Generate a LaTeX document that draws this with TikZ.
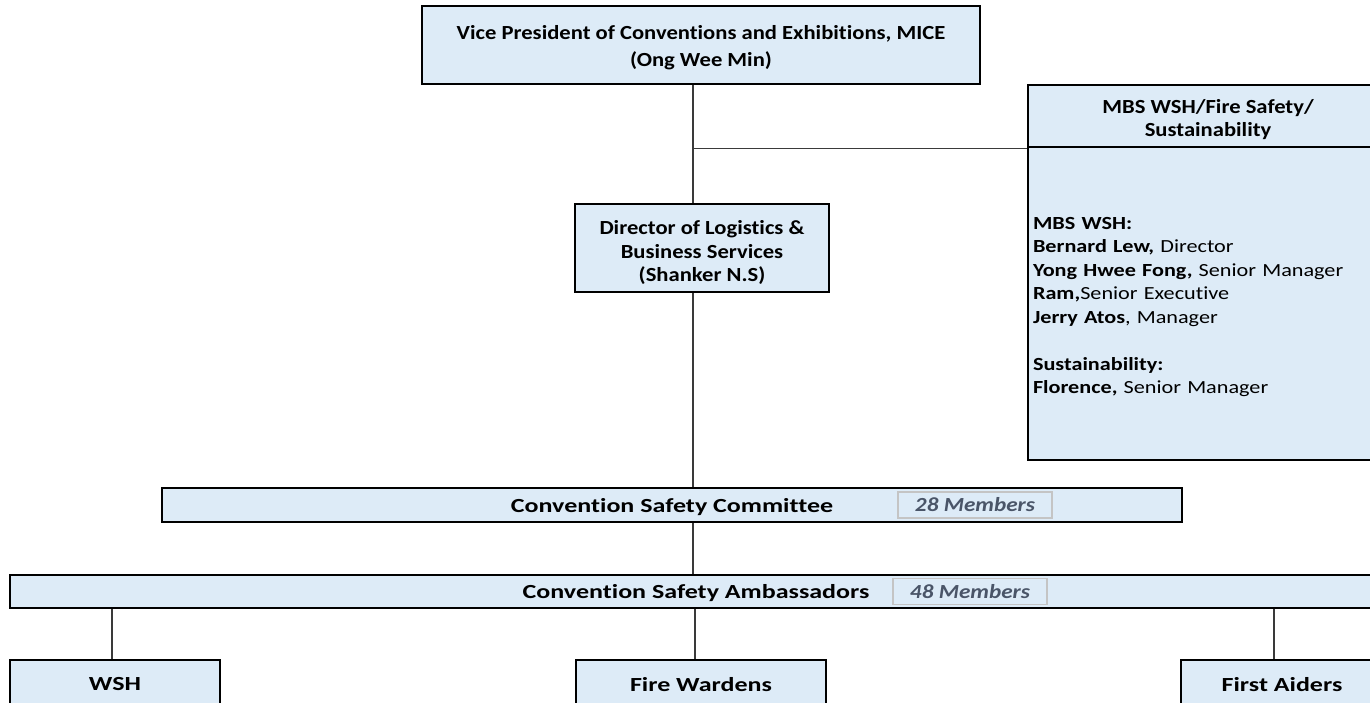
\documentclass[tikz,border=0pt]{standalone}
\usepackage{fontspec}
\setmainfont{Carlito}[Ligatures=NoCommon]
\newfontfamily\boxfont{Carlito}[Ligatures=NoCommon, FakeStretch=1.13]
\newfontfamily\barfont{Carlito}[Ligatures=NoCommon, FakeStretch=1.3]
\newfontfamily\listfont{Carlito}[Ligatures=NoCommon, FakeStretch=1.2]
\newfontfamily\tagfont{Carlito}[Ligatures=NoCommon, FakeStretch=1.16]
\usetikzlibrary{positioning}
\definecolor{boxblue}{HTML}{DDEBF7}
\definecolor{tagtext}{HTML}{4A5568}
\definecolor{tagline}{HTML}{C4C4C4}
\definecolor{linkgray}{HTML}{3A3A3A}

\begin{document}
\begin{tikzpicture}[x=1pt,y=-1pt,
  box/.style={draw=black, line width=2.4pt, fill=boxblue, align=center, inner sep=0pt,
    font=\boxfont\bfseries\fontsize{20}{27}\selectfont},
  bar/.style={box, text depth=0pt, font=\barfont\bfseries\fontsize{20}{24}\selectfont},
  tag/.style={draw=tagline, line width=1.2pt, fill=boxblue, text=tagtext, inner sep=0pt,
    minimum width=154pt, minimum height=26pt, font=\tagfont\bfseries\itshape\fontsize{20}{24}\selectfont},
  link/.style={draw=linkgray, line width=1.3pt}]
\clip (0,0) rectangle (1370,702);

% top of the chart
\node (vp) [box, minimum width=558pt, minimum height=78pt] at (701,45)
  {\rule{0pt}{20pt}Vice President of Conventions and Exhibitions, MICE\\(Ong Wee Min)};
\node (dir) [box, minimum width=254pt, minimum height=88pt, font=\boxfont\bfseries\fontsize{20}{23.5}\selectfont] at (702,248)
  {\rule{0pt}{24pt}Director of Logistics \&\\Business Services\\(Shanker N.S)};
\coordinate (trunk) at (693,0);

% safety office on the right
\node (hsehead) [box, minimum width=360pt, minimum height=62pt, font=\boxfont\bfseries\fontsize{20}{23.5}\selectfont] at (1208,116)
  {\rule{0pt}{21pt}MBS WSH/Fire Safety/\\Sustainability};
\node (hsebody) [box, minimum width=360pt, minimum height=313pt, below=-2.4pt of hsehead,
  text width=350pt, align=left, font=\listfont\fontsize{18.5}{23.5}\selectfont]
  {\rule{0pt}{19pt}\textbf{MBS WSH:}\\
   \textbf{Bernard Lew,} Director\\
   \textbf{Yong Hwee Fong,} Senior Manager\\
   \textbf{Ram,}Senior Executive\\
   \textbf{Jerry Atos}, Manager\\[23.5pt]
   \textbf{Sustainability:}\\
   \textbf{Florence,} Senior Manager};

% committee and ambassadors
\node (csc) [bar, minimum width=1020pt, minimum height=34pt] at (672,505) {Convention Safety Committee};
\node (csctag) [tag] at (975,505) {28 Members};
\node (csa) [bar, minimum width=1372pt, minimum height=33pt] at (696,591.5) {Convention Safety Ambassadors};
\node (csatag) [tag] at (970,591.5) {48 Members};

% teams
\node (wsh) [bar, minimum width=210pt, minimum height=48pt] at (115,684) {WSH};
\node (fw) [bar, minimum width=250pt, minimum height=48pt] at (701,684) {Fire Wardens};
\node (fa) [bar, minimum width=202pt, minimum height=48pt] at (1282,684) {First Aiders};

\coordinate (tap) at (trunk |- 0,148.5);
\draw [link] (trunk |- vp.south) -- (trunk |- dir.north);
\draw [link] (tap) -- (tap -| hsebody.west);
\draw [link] (trunk |- dir.south) -- (trunk |- csc.north);
\draw [link] (trunk |- csc.south) -- (trunk |- csa.north);
\draw [link] (csa.south -| 112,0) -- (wsh.north -| 112,0);
\draw [link] (csa.south -| 695,0) -- (fw.north -| 695,0);
\draw [link] (csa.south -| 1274,0) -- (fa.north -| 1274,0);
\end{tikzpicture}
\end{document}
